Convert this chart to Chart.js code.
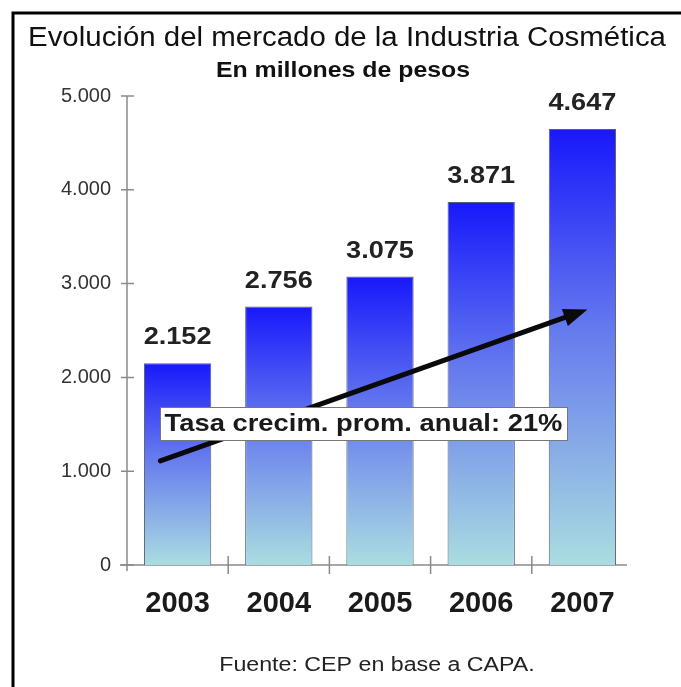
<!DOCTYPE html>
<html>
<head>
<meta charset="utf-8">
<script src="https://cdn.jsdelivr.net/npm/chart.js@4"></script>
<style>
  html, body { margin: 0; padding: 0; background: #fff; }
  #wrap { width: 681px; height: 687px; position: relative; }
</style>
</head>
<body>
<div id="wrap"><canvas id="myChart" width="681" height="687"></canvas></div>
<script>
var years = ['2003', '2004', '2005', '2006', '2007'];
var ventas = [2152, 2756, 3075, 3871, 4647];
var yTicks = [0, 1000, 2000, 3000, 4000, 5000];
var titulo = 'Evolución del mercado de la Industria Cosmética';
var subtitulo = 'En millones de pesos';
var fuente = 'Fuente: CEP en base a CAPA.';
var tasaTexto = 'Tasa crecim. prom. anual: 21%';
// trend arrow, in data units (category index, value)
var flechaDesde = [-0.17, 1110];
var flechaHasta = [4.05, 2725];

var FAM = '"Liberation Sans", Arial, sans-serif';

function fmt(v) {
  return v.toString().replace(/\B(?=(\d{3})+(?!\d))/g, '.');
}

// text a bit wider than the font, like the original picture
function texto(ctx, s, x, y, font, sx) {
  ctx.save();
  ctx.font = font;
  ctx.textAlign = 'center';
  ctx.textBaseline = 'middle';
  ctx.translate(x, y);
  ctx.scale(sx, 1);
  ctx.fillText(s, 0, 0);
  ctx.restore();
}

function barGradient(context) {
  var chart = context.chart;
  var ys = chart.scales.y;
  if (!chart.chartArea || !ys || context.type !== 'data') return '#4a5cf0';
  var top = ys.getPixelForValue(context.raw);
  var bottom = ys.getPixelForValue(0);
  if (!isFinite(top) || !isFinite(bottom)) return '#4a5cf0';
  var g = chart.ctx.createLinearGradient(0, top, 0, bottom);
  g.addColorStop(0, '#1818fa');
  g.addColorStop(0.45, '#6478ee');
  g.addColorStop(1, '#aadde0');
  return g;
}

var decoraciones = {
  id: 'decoraciones',
  beforeDatasetsDraw: function(chart) {
    var ctx = chart.ctx;
    var a = chart.chartArea;
    var xs = chart.scales.x, ys = chart.scales.y;
    ctx.save();
    ctx.strokeStyle = '#8a8a8a';
    ctx.lineWidth = 1.5;
    // y axis + ticks
    ctx.beginPath();
    ctx.moveTo(a.left, a.top);
    ctx.lineTo(a.left, a.bottom + 6);
    yTicks.forEach(function(v) {
      var y = ys.getPixelForValue(v);
      ctx.moveTo(a.left - 6, y);
      ctx.lineTo(a.left + 7, y);
    });
    ctx.stroke();
    // x axis + ticks between categories
    ctx.beginPath();
    ctx.moveTo(a.left - 7, a.bottom);
    ctx.lineTo(a.right - 6, a.bottom);
    for (var i = 0; i < years.length - 1; i++) {
      var x = (xs.getPixelForValue(i) + xs.getPixelForValue(i + 1)) / 2;
      ctx.moveTo(x, a.bottom - 9);
      ctx.lineTo(x, a.bottom + 9);
    }
    ctx.stroke();
    ctx.restore();
  },
  afterDatasetsDraw: function(chart) {
    var ctx = chart.ctx;
    var xs = chart.scales.x, ys = chart.scales.y;
    ctx.save();
    // value labels
    ctx.fillStyle = '#222';
    ventas.forEach(function(v, i) {
      texto(ctx, fmt(v), xs.getPixelForValue(i), ys.getPixelForValue(v) - 25, 'bold 23px ' + FAM, 1.18);
    });
    // trend arrow
    var step = xs.getPixelForValue(1) - xs.getPixelForValue(0);
    var x1 = xs.getPixelForValue(0) + flechaDesde[0] * step;
    var x2 = xs.getPixelForValue(0) + flechaHasta[0] * step;
    var y1 = ys.getPixelForValue(flechaDesde[1]);
    var y2 = ys.getPixelForValue(flechaHasta[1]);
    var ang = Math.atan2(y2 - y1, x2 - x1);
    var headLen = 24, headW = 9;
    var bx = x2 - headLen * Math.cos(ang), by = y2 - headLen * Math.sin(ang);
    ctx.strokeStyle = '#0a0a0a';
    ctx.fillStyle = '#0a0a0a';
    ctx.lineWidth = 5;
    ctx.lineCap = 'round';
    ctx.beginPath();
    ctx.moveTo(x1, y1);
    ctx.lineTo(bx + 4 * Math.cos(ang), by + 4 * Math.sin(ang));
    ctx.stroke();
    ctx.beginPath();
    ctx.moveTo(x2, y2);
    ctx.lineTo(bx + headW * Math.sin(ang), by - headW * Math.cos(ang));
    ctx.lineTo(bx - headW * Math.sin(ang), by + headW * Math.cos(ang));
    ctx.closePath();
    ctx.fill();
    // growth box
    var bl = 160, bt = 407, bw = 407, bh = 33;
    ctx.fillStyle = '#fff';
    ctx.fillRect(bl, bt, bw, bh);
    ctx.strokeStyle = '#777';
    ctx.lineWidth = 1;
    ctx.strokeRect(bl + 0.5, bt + 0.5, bw, bh);
    ctx.fillStyle = '#1a1a1a';
    texto(ctx, tasaTexto, bl + bw / 2, bt + bh / 2 + 1, 'bold 24px ' + FAM, 1.14);
    ctx.restore();
  },
  afterDraw: function(chart) {
    var ctx = chart.ctx;
    ctx.save();
    // frame (open on right and bottom)
    ctx.strokeStyle = '#000';
    ctx.lineWidth = 3;
    ctx.beginPath();
    ctx.moveTo(13, 687);
    ctx.lineTo(13, 13);
    ctx.lineTo(681, 13);
    ctx.stroke();
    ctx.fillStyle = '#111';
    texto(ctx, titulo, 347, 39, '27px ' + FAM, 1.09);
    texto(ctx, subtitulo, 343, 71, 'bold 22px ' + FAM, 1.13);
    ctx.fillStyle = '#222';
    texto(ctx, fuente, 377, 665, '20px ' + FAM, 1.16);
    ctx.restore();
  }
};

var ctx = document.getElementById('myChart');
var grath = new Chart(ctx, {
  type: 'bar',
  data: {
    labels: years,
    datasets: [{
      label: subtitulo,
      data: ventas,
      backgroundColor: barGradient,
      borderColor: '#5a5f70',
      borderWidth: 1,
      categoryPercentage: 1,
      barPercentage: 0.665
    }]
  },
  options: {
    responsive: false,
    animation: false,
    layout: { padding: { top: 96, right: 48, bottom: 0, left: 0 } },
    plugins: {
      legend: { display: false },
      title: { display: false },
      tooltip: { enabled: false }
    },
    scales: {
      x: {
        grid: { display: false, drawTicks: false },
        border: { display: false },
        ticks: {
          padding: 22,
          color: '#1a1a1a',
          font: { family: FAM, size: 29, weight: 'bold' }
        },
        afterFit: function(s) { s.height = 122; }
      },
      y: {
        min: 0,
        max: 5000,
        grid: { display: false, drawTicks: false },
        border: { display: false },
        ticks: {
          stepSize: 1000,
          padding: 16,
          color: '#333',
          font: { family: FAM, size: 20 },
          callback: function(v) { return fmt(v); }
        },
        afterFit: function(s) { s.width = 127; }
      }
    }
  },
  plugins: [decoraciones]
});
</script>
</body>
</html>
